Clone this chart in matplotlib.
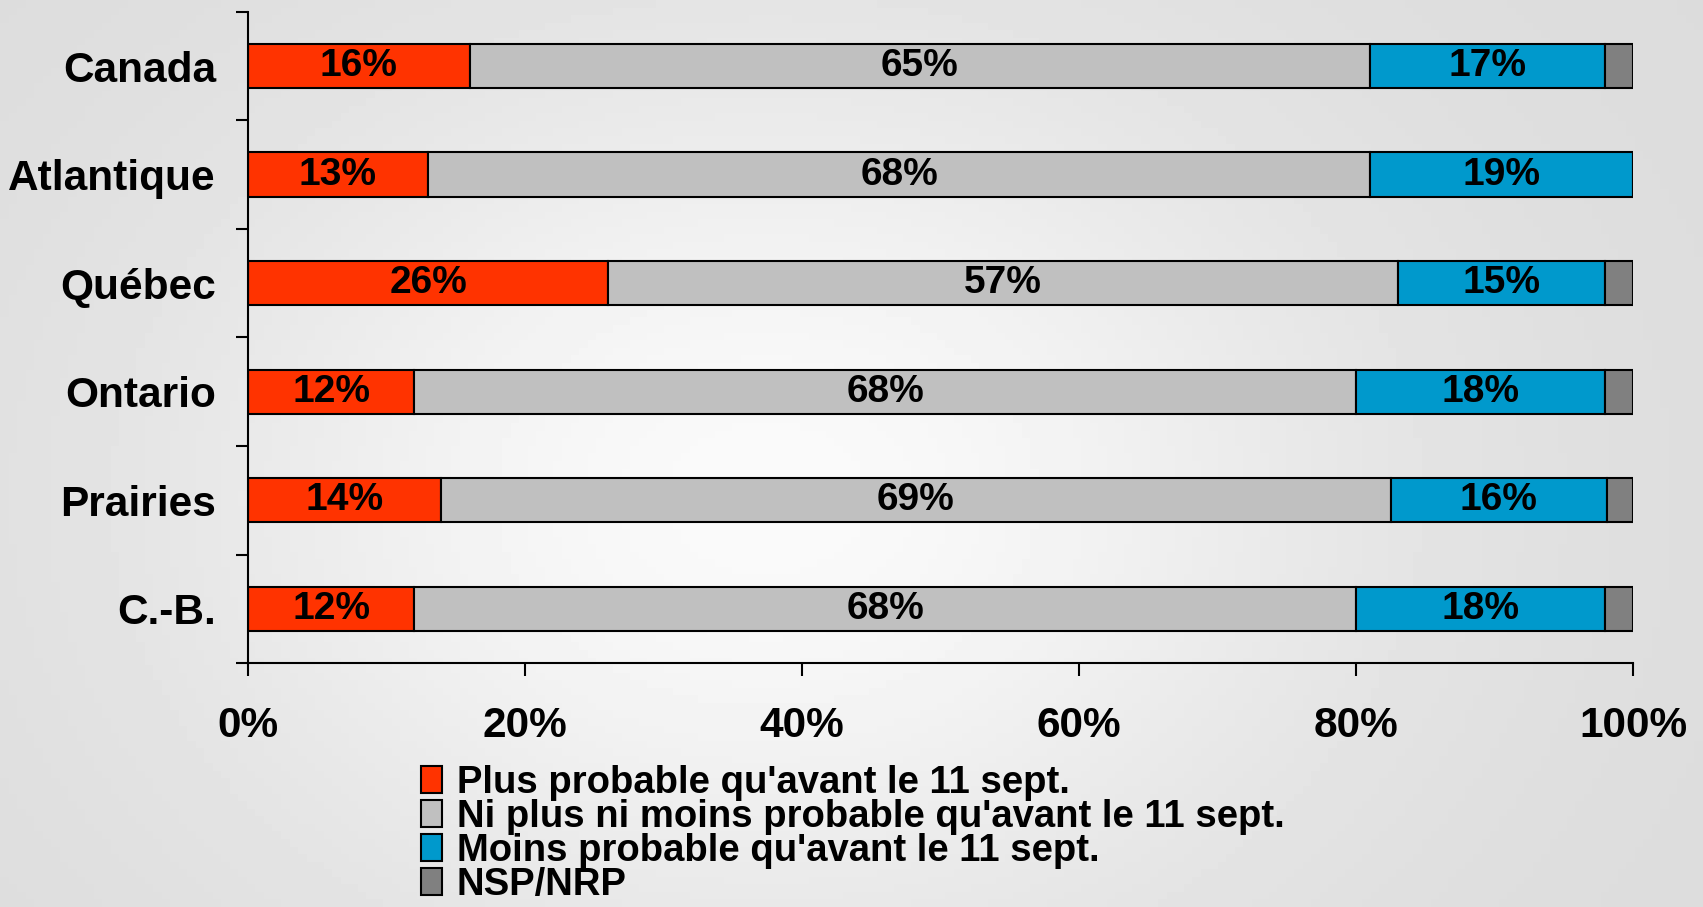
import numpy as np
import matplotlib.pyplot as plt
from matplotlib.patches import Patch

# ==========================================================
# DATA
# ==========================================================
regions = ["Canada", "Atlantique", "Québec", "Ontario", "Prairies", "C.-B."]

plus_probable = [16, 13, 26, 12, 13.9, 12]
ni_plus_ni_moins = [65, 68, 57, 68, 68.6, 68]
moins_probable = [17, 19, 15, 18, 15.6, 18]
nsp_nrp = [2, 0, 2, 2, 1.9, 2]

series_names = [
    "Plus probable qu'avant le 11 sept.",
    "Ni plus ni moins probable qu'avant le 11 sept.",
    "Moins probable qu'avant le 11 sept.",
    "NSP/NRP",
]
colors = ["#FF3300", "#C0C0C0", "#0099CC", "#808080"]
x_ticks = [0, 20, 40, 60, 80, 100]

# ==========================================================
# FIGURE
# ==========================================================
plt.rcParams['font.family'] = ['Liberation Sans', 'DejaVu Sans']
plt.rcParams['font.weight'] = 'bold'

fig = plt.figure(figsize=(17.03, 9.07), dpi=100)
fig.patch.set_facecolor("#E4E4E4")

# soft background gradient
bg = fig.add_axes([0, 0, 1, 1], zorder=-10)
gx, gy = np.meshgrid(np.linspace(0, 1, 200), np.linspace(0, 1, 120))
shade = 0.86 + 0.12 * np.exp(-((gx - 0.45) ** 2 / 0.12 + (gy - 0.55) ** 2 / 0.25))
bg.imshow(shade, cmap="gray", vmin=0, vmax=1, aspect="auto", extent=[0, 1, 0, 1])
bg.axis("off")

ax = fig.add_axes([0.1456, 0.269, 0.8134, 0.7178])
ax.patch.set_alpha(0)

y = np.arange(len(regions))
series = [plus_probable, ni_plus_ni_moins, moins_probable, nsp_nrp]
left = np.zeros(len(regions))
for vals, col in zip(series, colors):
    vals = np.array(vals, dtype=float)
    ax.barh(y, vals, left=left, height=0.41, color=col,
            edgecolor="black", linewidth=1.5)
    left += vals

# segment labels (only first three series)
left = np.zeros(len(regions))
for k, vals in enumerate(series[:3]):
    vals = np.array(vals, dtype=float)
    for i, v in enumerate(vals):
        ax.text(left[i] + v / 2, y[i], f"{round(v)}%", ha="center",
                va="center", fontsize=28, fontweight="bold")
    left += vals

ax.set_xlim(0, 100)
ax.set_ylim(len(regions) - 0.5, -0.5)

ax.set_xticks(x_ticks)
ax.set_xticklabels([f"{t}%" for t in x_ticks])
ax.tick_params(axis="x", length=9, width=1.5, pad=22, labelsize=30.5)

ax.set_yticks(np.arange(len(regions) + 1) - 0.5)
ax.set_yticklabels([])
ax.set_yticks(y, minor=True)
ax.set_yticklabels(regions, minor=True)
ax.tick_params(axis="y", which="major", length=9, width=1.5)
ax.tick_params(axis="y", which="minor", length=0, pad=23, labelsize=30.5)

for s in ["top", "right"]:
    ax.spines[s].set_visible(False)
for s in ["left", "bottom"]:
    ax.spines[s].set_linewidth(1.5)

handles = [Patch(facecolor=c, edgecolor="black", linewidth=1.5) for c in colors]
fig.legend(handles, series_names, loc="upper left",
           bbox_to_anchor=(0.247, 0.157), frameon=False,
           prop={"weight": "bold", "size": 27.5},
           handlelength=0.55, handleheight=0.7, handletextpad=0.4,
           labelspacing=-0.05, borderpad=0, borderaxespad=0)

fig.savefig("out.png", dpi=100, facecolor=fig.get_facecolor())
